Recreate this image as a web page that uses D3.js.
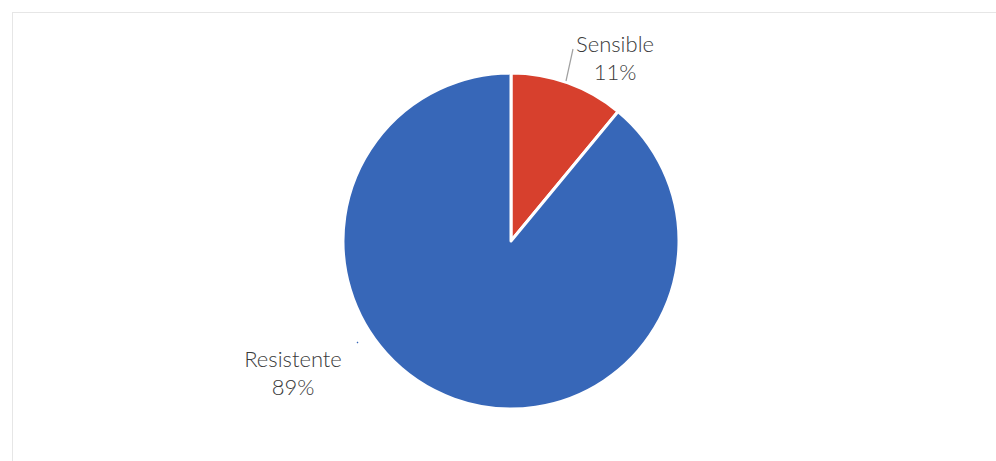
<!DOCTYPE html>
<html>
<head>
<meta charset="utf-8">
<script src="https://cdn.jsdelivr.net/npm/d3@7"></script>
<style>
  html, body { margin: 0; padding: 0; background: #fff; }
  svg { display: block; }
</style>
</head>
<body>
<svg id="chart" width="996" height="461"></svg>
<script>
// Susceptibility results
const categories = ["Sensible", "Resistente"];
const values = [11, 89];
const percentLabels = ["11%", "89%"];
const colors = ["#d7402d", "#3767b8"];

const width = 996, height = 461;
const cx = 511, cy = 241, radius = 168;

const svg = d3.select("#chart");

// chart frame (only top/left edges fall inside the page)
svg.append("rect")
  .attr("x", 12.5).attr("y", 12.5)
  .attr("width", 1000).attr("height", 500)
  .attr("fill", "none")
  .attr("stroke", "#e6e6e6")
  .attr("stroke-width", 1);

const pie = d3.pie().sort(null).value(d => d)(values);
const arc = d3.arc().innerRadius(0).outerRadius(radius);

const g = svg.append("g").attr("transform", `translate(${cx},${cy})`);

g.selectAll("path.slice")
  .data(pie)
  .join("path")
  .attr("class", "slice")
  .attr("d", arc)
  .attr("fill", (d, i) => colors[i])
  .attr("stroke", "#ffffff")
  .attr("stroke-width", 3)
  .attr("stroke-linejoin", "round");

// label placement relative to the pie centre
const labelPos = [
  { x: 104, y: -189 },
  { x: -218, y: 126 }
];
// leader lines from the slice edge to the label
const leaders = [
  [[55, -160], [62, -192]],
  [[-154, 101], [-153, 102]]
];

g.selectAll("path.leader")
  .data(leaders)
  .join("path")
  .attr("class", "leader")
  .attr("d", d => d3.line()(d))
  .attr("fill", "none")
  .attr("stroke", (d, i) => i === 0 ? "#a0a0a0" : colors[1])
  .attr("stroke-width", 1.2);

const labels = g.selectAll("text.lbl")
  .data(pie)
  .join("text")
  .attr("class", "lbl")
  .attr("text-anchor", "middle")
  .attr("font-family", "Lato, 'Open Sans', sans-serif")
  .attr("font-weight", 300)
  .attr("font-size", 22)
  .attr("fill", "#3a3a3a")
  .attr("transform", (d, i) => `translate(${labelPos[i].x},${labelPos[i].y})`);

labels.append("tspan")
  .attr("x", 0).attr("dy", 0)
  .text((d, i) => categories[i]);
labels.append("tspan")
  .attr("x", 0).attr("dy", 28)
  .text((d, i) => percentLabels[i]);
</script>
</body>
</html>
